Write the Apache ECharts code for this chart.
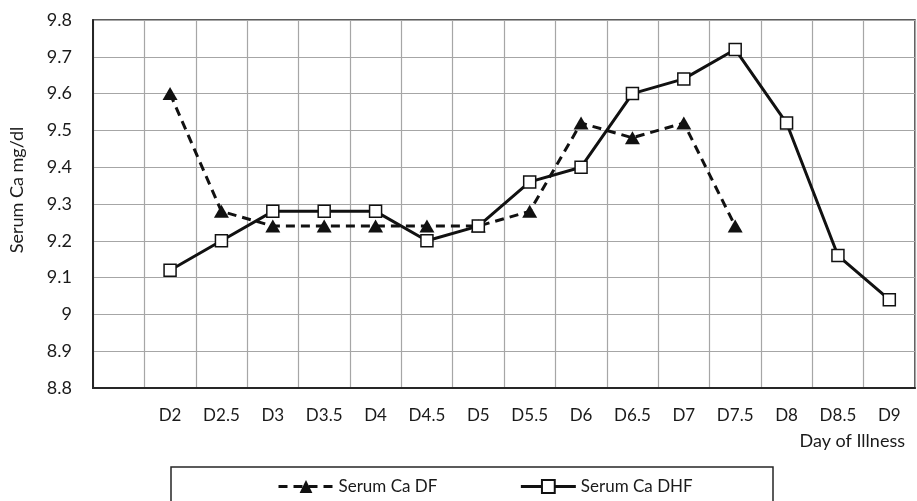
<!DOCTYPE html>
<html>
<head>
<meta charset="utf-8">
<script src="https://cdn.jsdelivr.net/npm/echarts@6/dist/echarts.min.js"></script>
<style>
  html, body { margin: 0; padding: 0; background: #fff; }
  #container { width: 917px; height: 501px; }
</style>
</head>
<body>
<div id="container"></div>
<script>
var dom = document.getElementById("container");
var myChart = echarts.init(dom);

// first slot is an empty category, as in the original
var days = ["", "D2", "D2.5", "D3", "D3.5", "D4", "D4.5", "D5", "D5.5", "D6", "D6.5", "D7", "D7.5", "D8", "D8.5", "D9"];
var caDF = [null, 9.6, 9.28, 9.24, 9.24, 9.24, 9.24, 9.24, 9.28, 9.52, 9.48, 9.52, 9.24, null, null, null];
var caDHF = [null, 9.12, 9.2, 9.28, 9.28, 9.28, 9.2, 9.24, 9.36, 9.4, 9.6, 9.64, 9.72, 9.52, 9.16, 9.04];

var font = "Lato";
var ink = "#1a1a1a";

var option = {
  animation: false,
  textStyle: { fontFamily: font },
  grid: {
    left: 93,
    right: 2,
    top: 20,
    bottom: 113,
    show: true,
    borderColor: "#262626",
    borderWidth: 1.5,
  },
  legend: {
    left: 272,
    top: 473,
    itemGap: 82,
    itemWidth: 55,
    itemHeight: 16,
    lineStyle: { width: 3 },
    textStyle: { fontFamily: font, fontSize: 17, color: ink },
    data: ["Serum Ca DF", "Serum Ca DHF"],
  },
  xAxis: {
    type: "category",
    data: days,
    boundaryGap: true,
    axisLine: { lineStyle: { color: "#262626", width: 2 } },
    axisTick: { show: false },
    axisLabel: { interval: 0, margin: 19, fontSize: 17, color: ink, fontFamily: font },
    splitLine: { show: true, interval: 0, lineStyle: { color: "#a6a6a6", width: 1.2 } },
  },
  yAxis: {
    type: "value",
    min: 8.8,
    max: 9.8,
    interval: 0.1,
    axisLine: { show: true, lineStyle: { color: "#262626", width: 2 } },
    axisTick: { show: false },
    axisLabel: {
      margin: 21,
      fontSize: 18,
      color: ink,
      fontFamily: font,
      formatter: function (v) { return String(Math.round(v * 10) / 10); },
    },
    splitLine: { show: true, lineStyle: { color: "#a6a6a6", width: 1.2 } },
  },
  series: [
    {
      name: "Serum Ca DF",
      type: "line",
      data: caDF,
      symbol: "triangle",
      symbolSize: [15, 13],
      showAllSymbol: true,
      itemStyle: { color: "#111", borderColor: "#111", borderWidth: 0 },
      lineStyle: { color: "#111", width: 3, type: [9, 6] },
    },
    {
      name: "Serum Ca DHF",
      type: "line",
      data: caDHF,
      symbol: "rect",
      symbolSize: 12,
      showAllSymbol: true,
      itemStyle: { color: "#fff", borderColor: "#111", borderWidth: 1.5 },
      lineStyle: { color: "#111", width: 3 },
    },
  ],
  graphic: [
    {
      type: "text",
      x: 17,
      y: 190,
      rotation: Math.PI / 2,
      style: {
        text: "Serum Ca mg/dl",
        font: "18px " + font,
        fill: ink,
        align: "center",
        verticalAlign: "middle",
      },
    },
    {
      type: "text",
      right: 12,
      top: 432,
      style: { text: "Day of Illness", font: "18px " + font, fill: ink },
    },
    {
      type: "rect",
      shape: { x: 171, y: 467, width: 602, height: 60 },
      style: { fill: null, stroke: "#262626", lineWidth: 1.5 },
    },
  ],
};

if (option && typeof option === "object") {
  myChart.setOption(option);
}
</script>
</body>
</html>
